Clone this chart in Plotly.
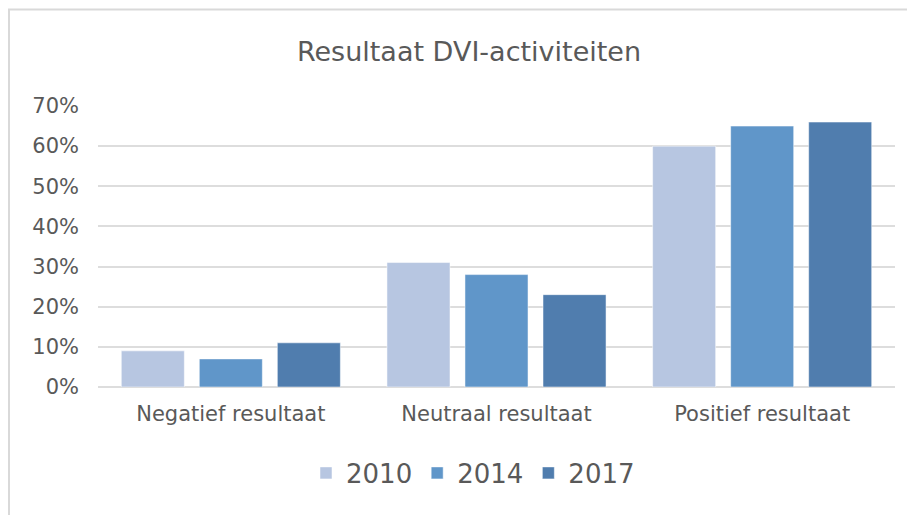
import plotly.graph_objects as go

categories = ["Negatief resultaat", "Neutraal resultaat", "Positief resultaat"]
years = ["2010", "2014", "2017"]
values_2010 = [0.09, 0.31, 0.60]
values_2014 = [0.07, 0.28, 0.65]
values_2017 = [0.11, 0.23, 0.66]
y_ticks = [0, 0.1, 0.2, 0.3, 0.4, 0.5, 0.6, 0.7]
y_ticklabels = ["0%", "10%", "20%", "30%", "40%", "50%", "60%", "70%"]

colors = ["#B7C6E1", "#6096C9", "#507DAE"]
series = [values_2010, values_2014, values_2017]

FONT = "DejaVu Sans"
TXT = "#595959"

fig = go.Figure()
for name, vals, col in zip(years, series, colors):
    fig.add_trace(go.Bar(
        x=categories, y=vals, name=name,
        marker=dict(color=col, line=dict(color="rgba(255,255,255,0.5)", width=1)),
        hoverinfo="skip",
    ))

# page has an 8px body margin; figure coords = page coords - 8
OFF = 8
W, H = 907, 507
L, T = 98 - OFF, 106 - OFF
R = W - (895 - OFF)
B = H - (387 - OFF)
pw = W - L - R
ph = H - T - B

fig.update_layout(
    width=W, height=H,
    margin=dict(l=L, r=R, t=T, b=B, pad=0),
    paper_bgcolor="white", plot_bgcolor="white",
    barmode="group", bargap=0.119, bargroupgap=0.192,
    font=dict(family=FONT, color=TXT, size=21),
    title=dict(text="Resultaat DVI-activiteiten", x=(469 - OFF) / W, xanchor="center",
               y=1 - (52 - OFF) / H, yanchor="middle",
               font=dict(family=FONT, size=27, color=TXT)),
    xaxis=dict(showgrid=False, showline=False, zeroline=False, ticks="",
               tickfont=dict(family=FONT, size=21, color=TXT),
               ticklabelstandoff=12),
    yaxis=dict(range=[0, 0.7], tickvals=y_ticks, ticktext=y_ticklabels,
               showgrid=True, gridcolor="#DDDDDD", gridwidth=1.5,
               zeroline=True, zerolinecolor="#DDDDDD", zerolinewidth=1.5,
               showline=False, ticks="",
               tickfont=dict(family=FONT, size=21, color=TXT),
               ticklabelstandoff=18),
    showlegend=True,
    legend=dict(orientation="h", x=(473 - OFF - L) / pw, xanchor="center",
                y=(T + ph - (473 - OFF)) / ph, yanchor="middle",
                font=dict(family=FONT, size=26, color=TXT),
                bgcolor="rgba(0,0,0,0)"),
    shapes=[dict(type="rect", xref="paper", yref="paper",
                 x0=(0.5 + 0.5 - L) / pw, x1=(W + 20 - L) / pw,
                 y0=(T + ph - (H + 20)) / ph, y1=(T + ph - 1.5) / ph,
                 line=dict(color="#D9D9D9", width=2), layer="below")],
)

fig.write_html("out.html")
